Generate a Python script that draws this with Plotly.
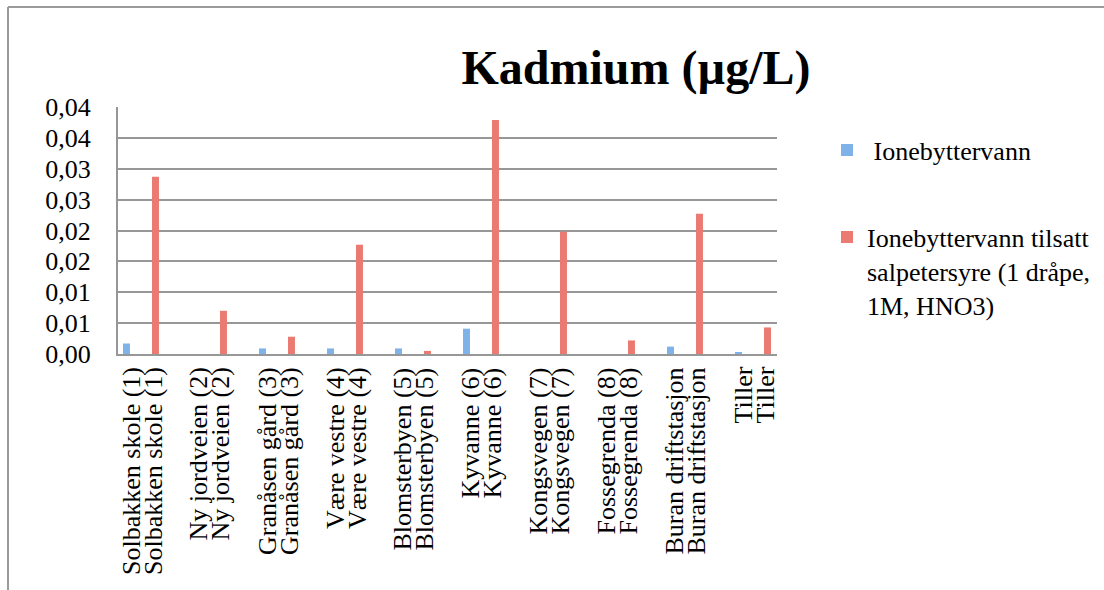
import plotly.graph_objects as go

# Sampling sites (10 locations)
sites = [
    "Solbakken skole (1)",
    "Ny jordveien (2)",
    "Granåsen gård (3)",
    "Være vestre (4)",
    "Blomsterbyen (5)",
    "Kyvanne (6)",
    "Kongsvegen (7)",
    "Fossegrenda (8)",
    "Buran driftstasjon",
    "Tiller",
]

# Cadmium concentration, µg/L
ionebyttervann = [0.0017, None, 0.0009, 0.0009, 0.0009, 0.0041, None, None, 0.0012, 0.0002]
tilsatt_hno3 = [0.0287, 0.0070, 0.0028, 0.0177, 0.0005, 0.0379, 0.0198, 0.0022, 0.0227, 0.0043]

# Y axis ticks (labels rounded to two decimals, comma as decimal sign)
y_tickvals = [0.0, 0.005, 0.01, 0.015, 0.02, 0.025, 0.03, 0.035, 0.04]
y_ticktext = ["0,00", "0,01", "0,01", "0,02", "0,02", "0,03", "0,03", "0,04", "0,04"]

name_blue = " Ionebyttervann"
name_red = "Ionebyttervann tilsatt<br>salpetersyre (1 dråpe,<br>1M, HNO3)"

W, H = 1104, 590
ML, MR, MT, MB = 118, 327, 107, 236
FONT = "Liberation Serif"
GRID = "#979797"

fig = go.Figure()
fig.add_trace(go.Bar(
    x=sites, y=ionebyttervann, name=name_blue,
    marker=dict(color="#7fb2e8", line=dict(width=0)),
    legend="legend",
))
fig.add_trace(go.Bar(
    x=sites, y=tilsatt_hno3, name=name_red,
    marker=dict(color="#ea7a72", line=dict(width=0)),
    legend="legend2",
))

plot_w = W - ML - MR
plot_h = H - MT - MB


def px_x(px):
    return (px - ML) / plot_w


def px_y(py):
    return (H - MB - py) / plot_h


tick_font = dict(family=FONT, size=26, color="black")

fig.update_layout(
    width=W, height=H,
    margin=dict(l=ML, r=MR, t=MT, b=MB),
    paper_bgcolor="white", plot_bgcolor="white",
    barmode="group", bargap=0.147, bargroupgap=0.76,
    title=dict(
        text="<b>Kadmium (µg/L)</b>",
        font=dict(family=FONT, size=48, color="black"),
        x=636 / W, xanchor="center", xref="container",
        y=1 - 67 / H, yanchor="middle", yref="container",
    ),
    xaxis=dict(
        type="category", range=[-0.338, 9.353],
        showgrid=False, zeroline=False,
        showline=True, linecolor=GRID, linewidth=2,
        showticklabels=False, ticks="",
    ),
    yaxis=dict(
        range=[0, 0.04], tickmode="array",
        tickvals=y_tickvals, ticktext=y_ticktext,
        showgrid=True, gridcolor=GRID, gridwidth=2,
        zeroline=False, showline=True, linecolor=GRID, linewidth=2,
        tickfont=tick_font, ticks="", ticklabelstandoff=20,
    ),
    legend=dict(
        x=827 / W, xref="container", xanchor="left",
        y=1 - 150 / H, yref="container", yanchor="middle",
        font=dict(family=FONT, size=26, color="black"),
        bgcolor="rgba(0,0,0,0)", borderwidth=0,
    ),
    legend2=dict(
        x=827 / W, xref="container", xanchor="left",
        y=1 - 271 / H, yref="container", yanchor="middle",
        font=dict(family=FONT, size=26, color="black"),
        bgcolor="rgba(0,0,0,0)", borderwidth=0, valign="top",
    ),
    showlegend=True,
)

# Category labels: each site name is printed twice, rotated, side by side
for site in sites:
    for shift in (-10, 12):
        fig.add_annotation(
            x=site, xref="x", y=0, yref="paper",
            text=site, textangle=-90, showarrow=False,
            xanchor="center", yanchor="top",
            xshift=shift, yshift=-12, borderpad=0,
            font=tick_font,
        )

# Chart-area frame on the top and left edges
fig.add_shape(type="line", xref="paper", yref="paper",
              x0=px_x(8), x1=px_x(W + 5), y0=px_y(7), y1=px_y(7),
              line=dict(color="#9a9a9a", width=2))
fig.add_shape(type="line", xref="paper", yref="paper",
              x0=px_x(8), x1=px_x(8), y0=px_y(7), y1=px_y(H + 5),
              line=dict(color="#9a9a9a", width=2))

fig.write_html("out.html")
